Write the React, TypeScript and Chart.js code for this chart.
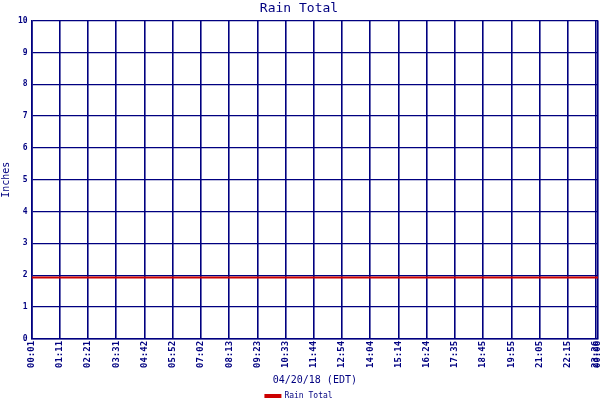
import React, { useRef, useEffect } from "react";
import Chart from "chart.js/auto";

// tick positions on the x axis (index units) and their labels
const tickPositions = [0, 1, 2, 3, 4, 5, 6, 7, 8, 9, 10, 11, 12, 13, 14, 15, 16, 17, 18, 19, 20, 20.07];
const timeLabels = [
  "00:01", "01:11", "02:21", "03:31", "04:42", "05:52", "07:02", "08:13", "09:23", "10:33", "11:44",
  "12:54", "14:04", "15:14", "16:24", "17:35", "18:45", "19:55", "21:05", "22:15", "23:26", "00:06",
];
const rainTotal = [
  1.93, 1.93, 1.93, 1.93, 1.93, 1.93, 1.93, 1.93, 1.93, 1.93, 1.93,
  1.93, 1.93, 1.93, 1.93, 1.93, 1.93, 1.93, 1.93, 1.93, 1.93, 1.93,
];
const yTicks = [0, 1, 2, 3, 4, 5, 6, 7, 8, 9, 10];

const NAVY = "#000080";
const MONO = "'DejaVu Sans Mono', monospace";

const App: React.FC = () => {
  const canvasRef = useRef<HTMLCanvasElement | null>(null);

  useEffect(() => {
    if (!canvasRef.current) return;
    document.body.style.margin = "0";

    const chart = new Chart(canvasRef.current, {
      type: "line",
      data: {
        datasets: [
          {
            label: "Rain Total",
            data: tickPositions.map((x, i) => ({ x, y: rainTotal[i] })),
            borderColor: "#cc0000",
            backgroundColor: "#cc0000",
            borderWidth: 2,
            pointRadius: 0,
          },
        ],
      },
      options: {
        animation: false,
        responsive: false,
        layout: { padding: { right: 2, left: 0, top: 0, bottom: -10 } },
        plugins: {
          title: {
            display: true,
            text: "Rain Total",
            color: NAVY,
            font: { family: MONO, size: 13, weight: "normal" },
            padding: { top: 1, bottom: 4 },
          },
          legend: {
            position: "bottom",
            labels: {
              color: NAVY,
              font: { family: MONO, size: 8 },
              boxWidth: 15,
              boxHeight: 2,
              padding: 2,
            },
          },
          tooltip: { enabled: false },
        },
        scales: {
          x: {
            type: "linear",
            min: 0,
            max: 20.07,
            afterBuildTicks: (axis) => {
              axis.ticks = tickPositions.map((v) => ({ value: v }));
            },
            afterFit: (axis) => {
              axis.paddingRight = 0;
              axis.paddingLeft = 0;
            },
            ticks: {
              autoSkip: false,
              minRotation: 90,
              maxRotation: 90,
              color: NAVY,
              padding: 2,
              font: { family: MONO, size: 9, weight: "bold" },
              callback: (_v, i) => timeLabels[i],
            },
            grid: { color: NAVY, lineWidth: 1.6, drawTicks: false },
            border: { color: NAVY, width: 1.6 },
            title: {
              display: true,
              text: "04/20/18 (EDT)",
              color: NAVY,
              font: { family: MONO, size: 10 },
              padding: { top: 4, bottom: 4 },
            },
          },
          y: {
            min: 0,
            max: 10,
            afterBuildTicks: (axis) => {
              axis.ticks = yTicks.map((v) => ({ value: v }));
            },
            ticks: {
              color: NAVY,
              padding: 4,
              font: { family: MONO, size: 8, weight: "bold" },
            },
            grid: { color: NAVY, lineWidth: 1.2, drawTicks: false },
            border: { color: NAVY, width: 1.6 },
            title: {
              display: true,
              text: "Inches",
              color: NAVY,
              font: { family: MONO, size: 10 },
              padding: { top: 0, bottom: 2 },
            },
          },
        },
      },
    });

    return () => chart.destroy();
  }, []);

  return (
    <div style={{ width: 600, height: 400, background: "#fff" }}>
      <canvas ref={canvasRef} width={600} height={400} />
    </div>
  );
};

export default App;
